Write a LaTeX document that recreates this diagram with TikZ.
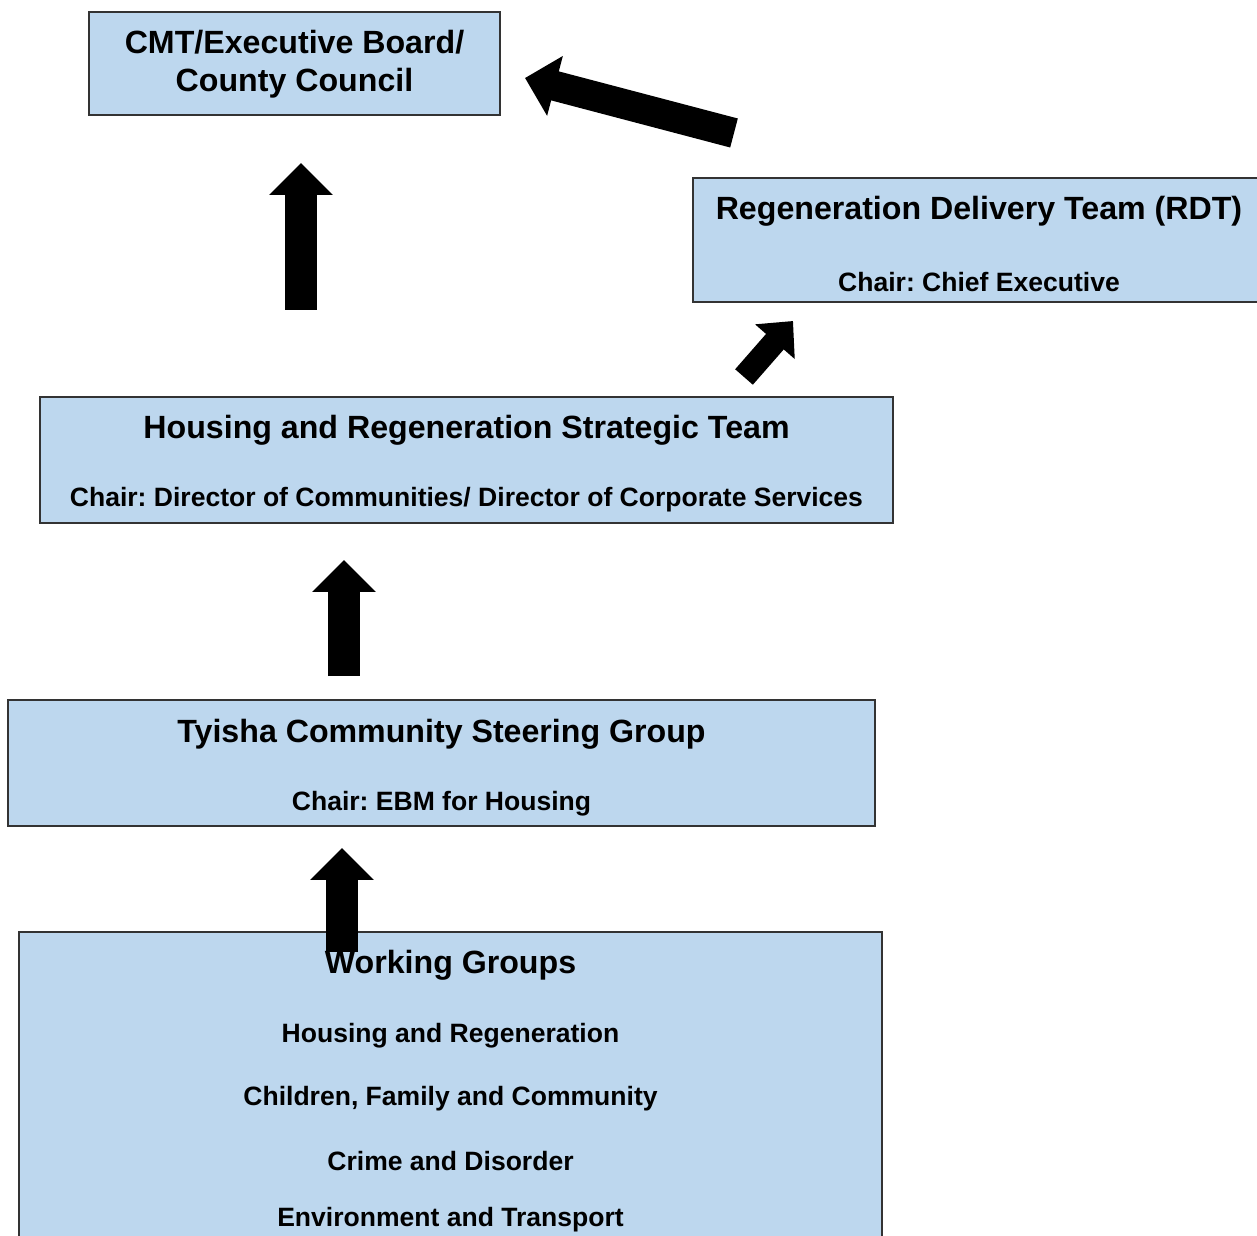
\documentclass[tikz,border=0pt]{standalone}
\usepackage{fontspec}
\setmainfont{Liberation Sans}
\frenchspacing
\usetikzlibrary{arrows.meta}
\definecolor{boxblue}{HTML}{BDD7EE}
\definecolor{boxline}{HTML}{333333}

\begin{document}
\begin{tikzpicture}[x=0.02cm,y=-0.02cm,
		panel/.style={draw=boxline, line width=0.7pt, fill=boxblue, inner sep=0pt},
		ttl/.style={font=\fontsize{18.3}{21.5}\selectfont\bfseries, inner sep=0pt, align=center},
		chr/.style={font=\fontsize{15.1}{17}\selectfont\bfseries, inner sep=0pt},
		big/.style={line width=0.64cm, -{Triangle[width=1.24cm, length=0.64cm]}},
		small/.style={line width=0.47cm, -{Triangle[width=1.02cm, length=0.55cm]}}]
%		\draw [help lines] (0,0) grid (1257,1236);
		\useasboundingbox (0,0) rectangle (1257,1236);
		\begin{scope}
		\clip (0,0) rectangle (1257,1236);
		\node [panel, minimum width=8.22cm, minimum height=2.06cm] (cmt) at (294.5,63.5) {};
		\node [panel, minimum width=11.38cm, minimum height=2.48cm] (rdt) at (977.5,240) {};
		\node [panel, minimum width=17.06cm, minimum height=2.52cm] (hrst) at (466.5,460) {};
		\node [panel, minimum width=17.34cm, minimum height=2.52cm] (tcsg) at (441.5,763) {};
		\node [panel, minimum width=17.26cm, minimum height=6.36cm] (wg) at (450.5,1091) {};
		\end{scope}
		\node [ttl] (cmtT) at (294.5,64) {CMT/Executive Board/\\County Council};
		\node [ttl] (rdtT) at (979,211) {Regeneration Delivery Team (RDT)};
		\node [chr] (rdtC) at (979,282) {Chair: Chief Executive};
		\node [ttl] (hrstT) at (466.5,430) {Housing and Regeneration Strategic Team};
		\node [chr] (hrstC) at (466.5,500) {Chair: Director of Communities/ Director of Corporate Services};
		\node [ttl] (tcsgT) at (441.5,734) {Tyisha Community Steering Group};
		\node [chr] (tcsgC) at (441.5,804) {Chair: EBM for Housing};
		\node [ttl] (wgT) at (450.5,965) {Working Groups};
		\node [chr] (wg1) at (450.5,1036) {Housing and Regeneration};
		\node [chr] (wg2) at (450.5,1099) {Children, Family and Community};
		\node [chr] (wg3) at (450.5,1161) {Crime and Disorder};
		\node [chr] (wg4) at (450.5,1220) {Environment and Transport};
		% block arrows
		\coordinate (a1s) at (301,310);  \coordinate (a1e) at (301,163);
		\coordinate (a2s) at (344,676);  \coordinate (a2e) at (344,560);
		\coordinate (a3s) at (342,952);  \coordinate (a3e) at (342,848);
		\coordinate (a4s) at (744,377);  \coordinate (a4e) at (793,321);
		\coordinate (a5s) at (734,133);  \coordinate (a5e) at (525,78);
		\draw [big] (a1s) -- (a1e);
		\draw [big] (a2s) -- (a2e);
		\draw [big] (a3s) -- (a3e);
		\draw [small] (a4s) -- (a4e);
		\draw [line width=0.6cm, -{Triangle[width=1.2cm, length=0.62cm]}] (a5s) -- (a5e);
\end{tikzpicture}
\end{document}
